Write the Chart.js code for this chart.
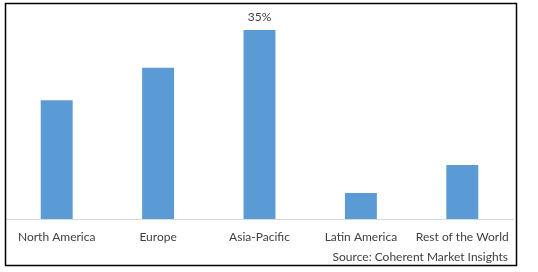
<!DOCTYPE html>
<html>
<head>
<meta charset="utf-8">
<script src="https://cdn.jsdelivr.net/npm/chart.js@4.4.0/dist/chart.umd.min.js"></script>
<style>
  html, body { margin: 0; padding: 0; background: #fff; }
  #wrap { width: 538px; height: 272px; position: relative; }
</style>
</head>
<body>
<div id="wrap"><canvas id="regionChart"></canvas></div>
<script>
// Datos del grafico
const regions = ['North America', 'Europe', 'Asia-Pacific', 'Latin America', 'Rest of the World'];
const shares = [22, 28, 35, 4.8, 10];
const shownLabels = ['', '', '35%', '', ''];
const sourceText = 'Source: Coherent Market Insights';

const fontFamily = 'Lato, "Open Sans", sans-serif';
const textColor = '#404040';

// marco, etiqueta de valor y fuente
const extras = {
    id: 'extras',
    afterDraw(chart) {
        const c = chart.ctx;
        c.save();
        c.strokeStyle = '#000';
        c.lineWidth = 1.5;
        c.strokeRect(5.5, 3.5, 511, 262);

        c.fillStyle = textColor;
        c.font = '12px ' + fontFamily;
        c.textAlign = 'center';
        c.textBaseline = 'middle';
        const meta = chart.getDatasetMeta(0);
        meta.data.forEach((bar, i) => {
            if (shownLabels[i]) c.fillText(shownLabels[i], bar.x, bar.y - 13);
        });

        c.textAlign = 'right';
        c.fillText(sourceText, 508, 257);
        c.restore();
    }
};

new Chart(document.getElementById('regionChart'), {
    type: 'bar',
    data: {
        labels: regions,
        datasets: [{
            data: shares,
            backgroundColor: '#5B9BD5',
            categoryPercentage: 1,
            barPercentage: 0.315
        }]
    },
    options: {
        responsive: true,
        maintainAspectRatio: false,
        animation: false,
        layout: { padding: { left: 6, right: 25, top: 3, bottom: 0 } },
        plugins: {
            legend: { display: false },
            tooltip: { enabled: false }
        },
        scales: {
            x: {
                grid: { display: false, drawTicks: false },
                border: { color: '#d9d9d9', width: 1 },
                ticks: {
                    color: textColor,
                    font: { family: fontFamily, size: 12 },
                    padding: 11,
                    maxRotation: 0,
                    autoSkip: false
                },
                afterFit(scale) { scale.height = 53; }
            },
            y: {
                display: false,
                min: 0,
                max: 40
            }
        }
    },
    plugins: [extras]
});
</script>
</body>
</html>
